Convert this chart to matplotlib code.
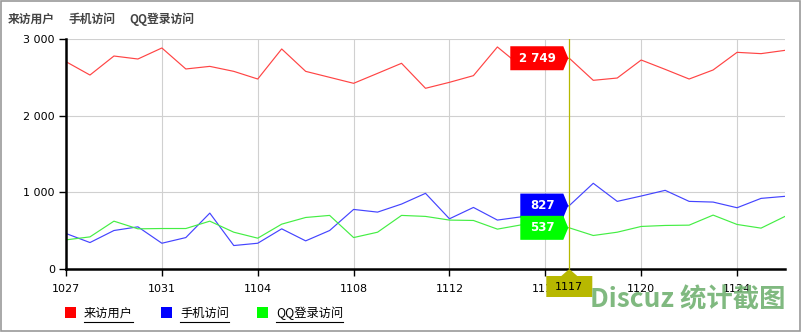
import numpy as np
import matplotlib.pyplot as plt
from matplotlib.patches import Rectangle, Polygon
from matplotlib.lines import Line2D

plt.rcParams['font.family'] = ['DejaVu Sans', 'Noto Sans CJK SC']

dates = ['1027', '1028', '1029', '1030', '1031',
         '1101', '1102', '1103', '1104', '1105', '1106', '1107', '1108', '1109', '1110',
         '1111', '1112', '1113', '1114', '1115', '1116', '1117', '1118', '1119', '1120',
         '1121', '1122', '1123', '1124', '1125', '1126']
visitors = [2704, 2530, 2778, 2739, 2883, 2609, 2643, 2578, 2478, 2870, 2578, 2500, 2422,
            2552, 2683, 2357, 2435, 2522, 2896, 2640, 2700, 2749, 2461, 2491, 2726, 2604,
            2478, 2596, 2826, 2809, 2852]
mobile = [463, 345, 502, 550, 336, 410, 729, 306, 336, 524, 367, 502, 777, 742, 847, 987,
          655, 803, 638, 681, 700, 827, 1118, 882, 952, 1026, 882, 873, 799, 921, 948]
qq = [380, 419, 624, 524, 528, 528, 624, 480, 402, 585, 672, 699, 410, 480, 699, 686, 638,
      633, 520, 576, 560, 537, 437, 480, 555, 568, 572, 703, 581, 533, 686]
series_names = ['来访用户', '手机访问', 'QQ登录访问']
yticks = [0, 1000, 2000, 3000]
hover = 21  # index of 1117

W, H = 803, 333
fig = plt.figure(figsize=(W / 100, H / 100), dpi=100)
ax = fig.add_axes([66 / W, (H - 269) / H, (785 - 66) / W, 230 / H])

x = np.arange(len(dates))
ax.plot(x, visitors, color='#ff4444', lw=0.85)
ax.plot(x, mobile, color='#4444ff', lw=0.85)
ax.plot(x, qq, color='#44ee44', lw=0.85)

ax.set_xlim(0, len(dates) - 1)
ax.set_ylim(0, 3000)
major = list(range(0, len(dates), 4))
ax.set_xticks(major)
ax.set_xticklabels([dates[i] for i in major])
ax.set_yticks(yticks)
ax.set_yticklabels([f'{v:,}'.replace(',', ' ') for v in yticks])
ax.tick_params(axis='both', length=5, width=1, labelsize=8, colors='black', pad=3)
ax.tick_params(axis='x', pad=6)
ax.grid(True, color='#d0d0d0', lw=0.8)
ax.set_axisbelow(True)
for s in ['top', 'right']:
    ax.spines[s].set_visible(False)
for s in ['left', 'bottom']:
    ax.spines[s].set_linewidth(1.8)

# crosshair at hovered date
ax.axvline(hover, color='#b5b800', lw=0.9, zorder=3)

def to_fig(px, py):
    return px / W, py / H

# tooltip labels (box with a small arrow tip pointing at the point)
box_w = {'#ff0000': 53, '#0000ff': 43, '#00ff00': 43}
for vals, col in [(visitors, '#ff0000'), (mobile, '#0000ff'), (qq, '#00ff00')]:
    px, py = ax.transData.transform((hover, vals[hover]))
    x1 = px - 6
    x0 = x1 - box_w[col]
    h = 12
    pts = [(x0, py - h), (x1, py - h), (x1 + 5, py), (x1, py + h), (x0, py + h)]
    fig.patches.append(Polygon([to_fig(*p) for p in pts], closed=True,
                               transform=fig.transFigure, fc=col, ec='none', zorder=6))
    fig.text(*to_fig((x0 + x1) / 2 + 1, py), f'{vals[hover]:,}'.replace(',', ' '),
             ha='center', va='center', color='white', fontsize=8.5, fontweight='bold',
             zorder=7)

# hovered x label box
px, _ = ax.transData.transform((hover, 0))
fig.patches.append(Polygon([to_fig(px - 23, H - 297), to_fig(px + 23, H - 297),
                            to_fig(px + 23, H - 276), to_fig(px + 8, H - 276),
                            to_fig(px, H - 269), to_fig(px - 8, H - 276),
                            to_fig(px - 23, H - 276)], closed=True,
                           transform=fig.transFigure, fc='#b8b800', ec='none', zorder=6))
fig.text(*to_fig(px, H - 287), dates[hover], ha='center', va='center', fontsize=8,
         color='black', zorder=7)

# title row
for tx, name in zip([8, 69, 129], series_names):
    fig.text(tx / W, (H - 19) / H, name, fontsize=8.5, fontweight='bold',
             color='#444444', va='center', ha='left',
             family=['Noto Sans CJK SC', 'DejaVu Sans'])

# legend
legend_x = [65, 161, 257]
fig.canvas.draw()
for lx, name, col in zip(legend_x, series_names, ['#ff0000', '#0000ff', '#00ff00']):
    fig.patches.append(Rectangle((lx / W, (H - 318) / H), 11 / W, 11 / H,
                                 transform=fig.transFigure, fc=col, ec='none'))
    t = fig.text((lx + 19) / W, (H - 313) / H, name, fontsize=8.8, color='black',
                 va='center', ha='left', family=['Noto Sans CJK SC', 'DejaVu Sans'])
    bb = t.get_window_extent(renderer=fig.canvas.get_renderer())
    fig.lines.append(Line2D([bb.x0 / W, bb.x1 / W], [(H - 322) / H] * 2,
                            transform=fig.transFigure, color='black', lw=0.8))

# watermark
fig.text(786 / W, (H - 300) / H, 'Discuz 统计截图', fontsize=19, color='#72b272',
         fontweight='bold', alpha=0.9, ha='right', va='center',
         family=['Noto Sans CJK SC', 'DejaVu Sans'], zorder=10)

# outer border
fig.patches.append(Rectangle((0.5 / W, 2 / H), 800 / W, 330 / H, transform=fig.transFigure,
                             fill=False, ec='#999999', lw=1.2))

fig.savefig('out.png', dpi=100)
